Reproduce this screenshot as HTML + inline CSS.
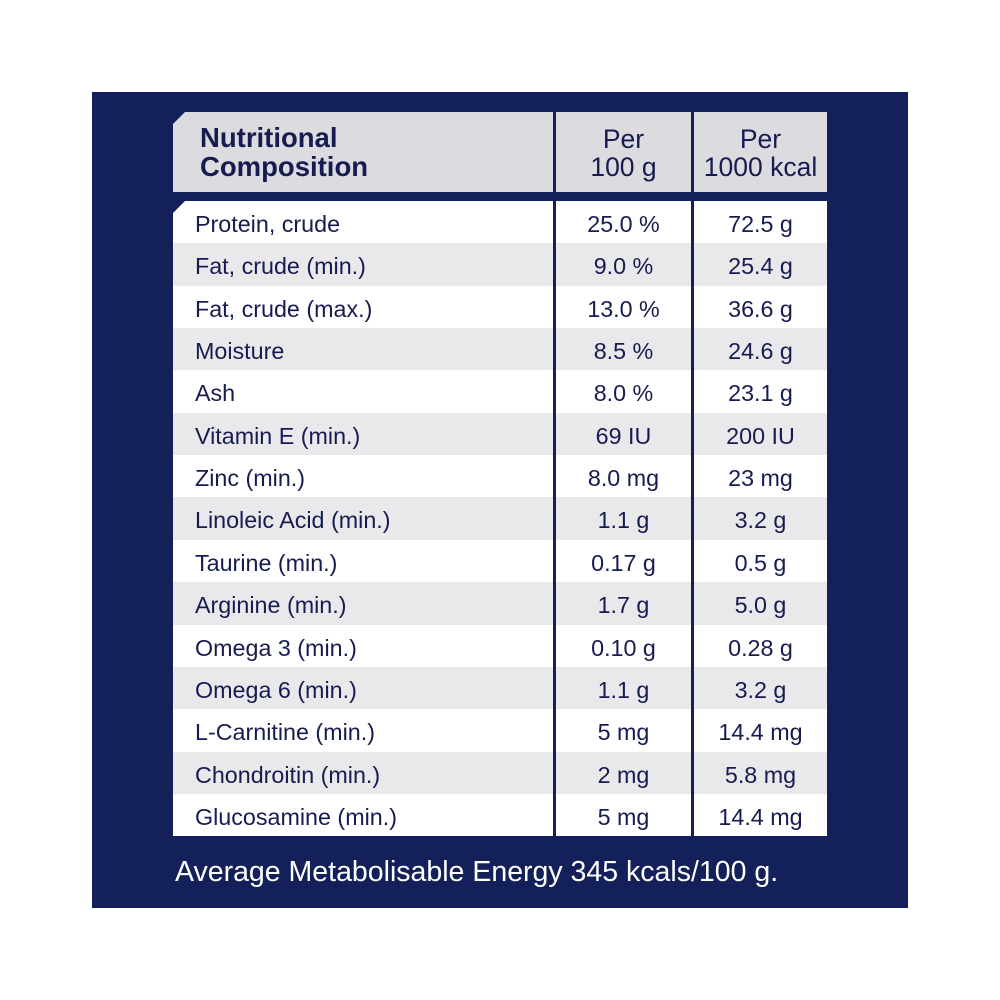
<!DOCTYPE html>
<html><head><style>
body{margin:0;background:#fff;width:1000px;height:1000px;position:relative;font-family:"Liberation Sans",sans-serif;color:#161c50}
.navy{position:absolute;left:92px;top:92px;width:816px;height:816px;background:#13205a}
.c{position:absolute;box-sizing:border-box;font-size:23.3px;line-height:46px;white-space:nowrap}
.h{background:#dcdbdf}
.foot{position:absolute;left:175px;top:852px;color:#fff;font-size:28.5px;line-height:40px}
</style></head><body>
<div class="navy"></div>
<div id="t"></div>
<div class="foot">Average Metabolisable Energy 345 kcals/100 g.</div>
<script>
var rows=[["Protein, crude","25.0 %","72.5 g"],["Fat, crude (min.)","9.0 %","25.4 g"],["Fat, crude (max.)","13.0 %","36.6 g"],["Moisture","8.5 %","24.6 g"],["Ash","8.0 %","23.1 g"],["Vitamin E (min.)","69 IU","200 IU"],["Zinc (min.)","8.0 mg","23 mg"],["Linoleic Acid (min.)","1.1 g","3.2 g"],["Taurine (min.)","0.17 g","0.5 g"],["Arginine (min.)","1.7 g","5.0 g"],["Omega 3 (min.)","0.10 g","0.28 g"],["Omega 6 (min.)","1.1 g","3.2 g"],["L-Carnitine (min.)","5 mg","14.4 mg"],["Chondroitin (min.)","2 mg","5.8 mg"],["Glucosamine (min.)","5 mg","14.4 mg"]];
var h='';
var cols=[[173,380],[556,135],[694,133]];
h+='<div class="c h" style="left:173px;top:112px;width:380px;height:80px;clip-path:polygon(12px 0,100% 0,100% 100%,0 100%,0 12px);padding:11px 0 0 27px;font-weight:bold;font-size:27.5px;line-height:29px">Nutritional<br>Composition</div>';
h+='<div class="c h" style="left:556px;top:112px;width:135px;height:80px;text-align:center;padding-top:13px;font-size:26.5px;line-height:28px">Per<br>100 g</div>';
h+='<div class="c h" style="left:694px;top:112px;width:133px;height:80px;text-align:center;padding-top:13px;font-size:26.5px;line-height:28px">Per<br>1000 kcal</div>';
rows.forEach(function(r,i){
 var y=201+i*42.35, bg=i%2?'#e9e9ec':'#fff';
 for(var j=0;j<3;j++){
  var st='left:'+cols[j][0]+'px;top:'+y+'px;width:'+cols[j][1]+'px;height:42.6px;overflow:hidden;background:'+bg+';';
  if(j==0){st+='padding-left:22px;';if(i==0)st+='clip-path:polygon(12px 0,100% 0,100% 100%,0 100%,0 12px);';}
  else st+='text-align:center;';
  h+='<div class="c" style="'+st+'">'+r[j]+'</div>';
 }
});
document.getElementById('t').innerHTML=h;
</script>
</body></html>
